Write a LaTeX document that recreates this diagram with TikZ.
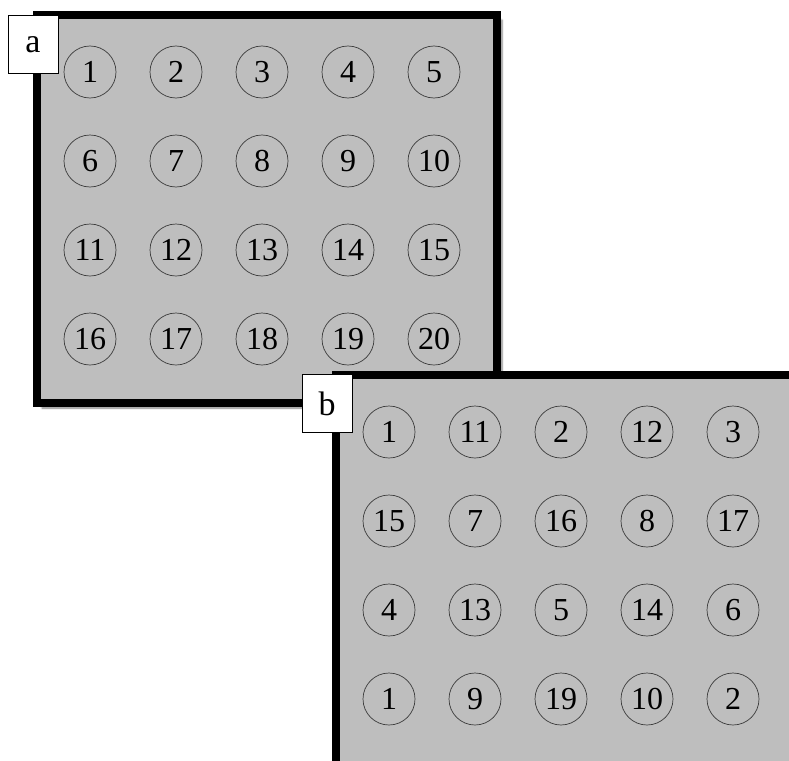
\documentclass[tikz,border=0pt]{standalone}
\usepackage{fontspec}
\setmainfont{Liberation Serif}
\usetikzlibrary{shadows.blur}
\definecolor{panelgray}{RGB}{190,190,190}
\definecolor{ringgray}{RGB}{60,60,60}
\tikzset{
  panel/.style={draw=black, line width=8pt, fill=panelgray},
  tag/.style={draw=black, line width=0.8pt, fill=white, minimum width=50pt, minimum height=58pt, inner sep=0pt, font=\fontsize{34}{40}\selectfont},
  ring/.style={circle, draw=ringgray, line width=0.7pt, minimum size=52pt, inner sep=0pt, font=\fontsize{32}{38}\selectfont},
}
\begin{document}
\begin{tikzpicture}[x=1pt,y=-1pt]
\useasboundingbox (0,0) rectangle (789,760);
\clip (0,0) rectangle (789,760);
% panel a
\path[panel, blur shadow={shadow xshift=5pt, shadow yshift=-5pt, shadow blur steps=6, shadow opacity=50}] (37,15) rectangle (497,403);
\foreach \n [count=\i from 0] in {1,2,3,4,5,6,7,8,9,10,11,12,13,14,15,16,17,18,19,20} {
  \pgfmathtruncatemacro{\c}{mod(\i,5)}
  \pgfmathtruncatemacro{\r}{div(\i,5)}
  \node[ring] (a\i) at ({90+86*\c},{72+89*\r}) {\n};
}
\node[tag] (taga) at (33,44.5) {a};
% panel b
\path[panel] (336,375) rectangle (820,800);
\foreach \n [count=\i from 0] in {1,11,2,12,3,15,7,16,8,17,4,13,5,14,6,1,9,19,10,2} {
  \pgfmathtruncatemacro{\c}{mod(\i,5)}
  \pgfmathtruncatemacro{\r}{div(\i,5)}
  \node[ring] (b\i) at ({389+86*\c},{432+89*\r}) {\n};
}
\node[tag] (tagb) at (327,403.5) {b};
\end{tikzpicture}
\end{document}
